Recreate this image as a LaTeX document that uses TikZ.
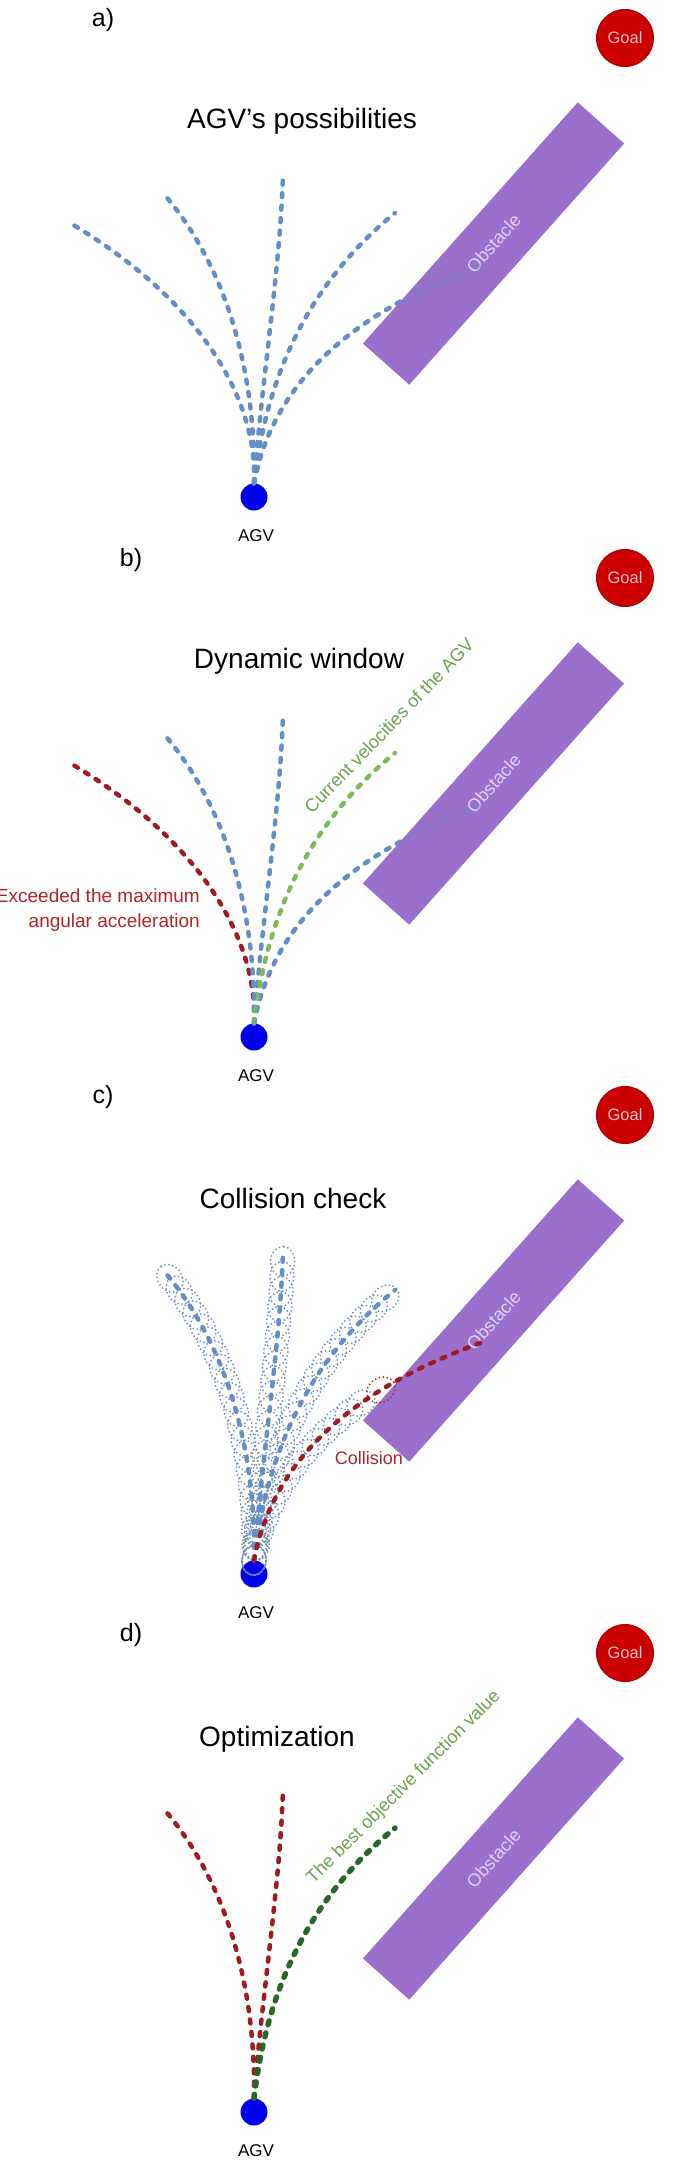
\documentclass[tikz,border=0pt]{standalone}
\usepackage{fontspec}
\setmainfont{Liberation Sans}
\usetikzlibrary{decorations.markings,backgrounds}

\definecolor{trajblue}{RGB}{100,142,198}
\definecolor{trajred}{RGB}{160,26,36}
\definecolor{trajgreen}{RGB}{128,186,88}
\definecolor{bestgreen}{RGB}{38,104,40}
\definecolor{velgreen}{RGB}{108,162,78}
\definecolor{obstpurple}{RGB}{154,112,204}
\definecolor{obsttext}{RGB}{226,214,246}
\definecolor{goalred}{RGB}{204,0,0}
\definecolor{goaldark}{RGB}{170,0,0}
\definecolor{goaltext}{RGB}{246,196,196}
\definecolor{agvblue}{RGB}{0,0,235}
\definecolor{warnred}{RGB}{172,38,40}
\definecolor{tubegray}{RGB}{112,142,180}

\tikzset{
  traj/.style={line width=4.5pt, dash pattern=on 4pt off 8.5pt, line cap=round},
  tubeline/.style={draw=tubegray, line width=2pt, dash pattern=on 0pt off 4pt, line cap=round},
  tubes/.style={decorate, decoration={markings,
      mark=between positions 0 and #1 step 15pt with {\draw[tubeline] (0pt,0pt) ellipse [x radius=15pt, y radius=12pt];}}},
  tubes/.default=1,
  goalnode/.style={circle, fill=goalred, draw=goaldark, line width=1pt, minimum size=57pt, inner sep=0pt,
      text=goaltext, font=\fontsize{16.5}{18}\selectfont},
  obstnode/.style={rectangle, fill=obstpurple, minimum width=323pt, minimum height=62pt, inner sep=0pt,
      rotate=48.3, text=obsttext, font=\fontsize{18}{20}\selectfont},
  agvnode/.style={circle, fill=agvblue, minimum size=27pt, inner sep=0pt},
  agvtext/.style={inner sep=0pt, font=\fontsize{17}{19}\selectfont},
  panellab/.style={inner sep=0pt, font=\fontsize{25}{28}\selectfont},
  paneltitle/.style={inner sep=0pt, font=\fontsize{28}{32}\selectfont},
  redtext/.style={inner sep=0pt, text=warnred, font=\fontsize{19}{25}\selectfont},
  greentext/.style={inner sep=0pt, text=velgreen, font=\fontsize{18.2}{20}\selectfont}
}

\begin{document}
\begin{tikzpicture}[x=1pt,y=-1pt]
  \useasboundingbox (0,0) rectangle (674,2160);

  \foreach \p/\dy/\lab/\lx/\tx/\ty/\ttl in {a/0/a)/103/302/121/AGV's possibilities,
      b/540/b)/131/299/121/Dynamic window, c/1077/c)/103/293/121/Collision check,
      d/1615/d)/131/277/124/Optimization}{
    \begin{scope}[shift={(0,\dy)}]
      \node[panellab] (lab\p) at (\lx,20) {\lab};
      \node[goalnode] (goal\p) at (625,38) {Goal};
      \node[paneltitle] (title\p) at (\tx,\ty) {\ttl};
      \node[obstnode] (obst\p) at (493.5,243.5) {Obstacle};
      \node[agvnode] (agv\p) at (254,497) {};
      \node[agvtext] (agvlab\p) at (256,536) {AGV};
      \coordinate (fl\p) at (70,223);
      \coordinate (l\p) at (163,193);
      \coordinate (c\p) at (283,175);
      \coordinate (r\p) at (395,213);
      \coordinate (rr\p) at (483,265);
    \end{scope}
  }

  % a) every velocity pair
  \foreach \e/\ca/\cb in {fla/{4,-84}/{130,77}, la/{2,-104}/{67,77}, ca/{8,-104}/{-3,95}, ra/{11,-94}/{-95,77}}
    \draw[traj, trajblue] (agva.north) .. controls +(\ca) and +(\cb) .. (\e);
  \begin{pgfonlayer}{background}
    \draw[traj, trajblue] (agva.north) .. controls +(16,-84) and +(-153,55) .. (rra);
  \end{pgfonlayer}
  \draw[traj, trajblue, opacity=.35] (agva.north) .. controls +(16,-84) and +(-153,55) .. (rra);

  % b) dynamic window
  \draw[traj, trajred] (agvb.north) .. controls +(4,-84) and +(130,77) .. (flb);
  \foreach \e/\ca/\cb in {lb/{2,-104}/{67,77}, cb/{8,-104}/{-3,95}}
    \draw[traj, trajblue] (agvb.north) .. controls +(\ca) and +(\cb) .. (\e);
  \draw[traj, trajgreen] (agvb.north) .. controls +(11,-94) and +(-95,77) .. (rb);
  \begin{pgfonlayer}{background}
    \draw[traj, trajblue] (agvb.north) .. controls +(16,-84) and +(-153,55) .. (rrb);
  \end{pgfonlayer}
  \draw[traj, trajblue, opacity=.35] (agvb.north) .. controls +(16,-84) and +(-153,55) .. (rrb);
  \node[redtext, anchor=east, align=right] (maxacc) at (200,910.5) {Exceeded the maximum\\angular acceleration};
  \node[greentext, rotate=46] (curvel) at (389,725.5) {Current velocities of the AGV};

  % c) collision check
  \foreach \e/\ca/\cb in {lc/{2,-104}/{67,77}, cc/{8,-104}/{-3,95}, rc/{11,-94}/{-95,77}}{
    \path[tubes] (agvc.north) .. controls +(\ca) and +(\cb) .. (\e);
    \draw[traj, trajblue] (agvc.north) .. controls +(\ca) and +(\cb) .. (\e);
  }
  \path[tubes=.6] (agvc.north) .. controls +(16,-84) and +(-153,55) .. (rrc);
  \path[decorate, decoration={markings, mark=at position .66 with
      {\draw[tubeline, draw=warnred] (0pt,0pt) ellipse [x radius=15pt, y radius=12pt];}}]
    (agvc.north) .. controls +(16,-84) and +(-153,55) .. (rrc);
  \draw[traj, trajred] (agvc.north) .. controls +(16,-84) and +(-153,55) .. (rrc);
  \node[redtext, font=\fontsize{18}{20}\selectfont] (collision) at (369,1458) {Collision};

  % d) optimization
  \foreach \e/\ca/\cb in {ld/{2,-104}/{67,77}, cd/{8,-104}/{-3,95}}
    \draw[traj, trajred] (agvd.north) .. controls +(\ca) and +(\cb) .. (\e);
  \draw[traj, bestgreen, line width=5.5pt] (agvd.north) .. controls +(11,-94) and +(-95,77) .. (rd);
  \node[greentext, rotate=45] (best) at (404,1787.5) {The best objective function value};
\end{tikzpicture}
\end{document}
